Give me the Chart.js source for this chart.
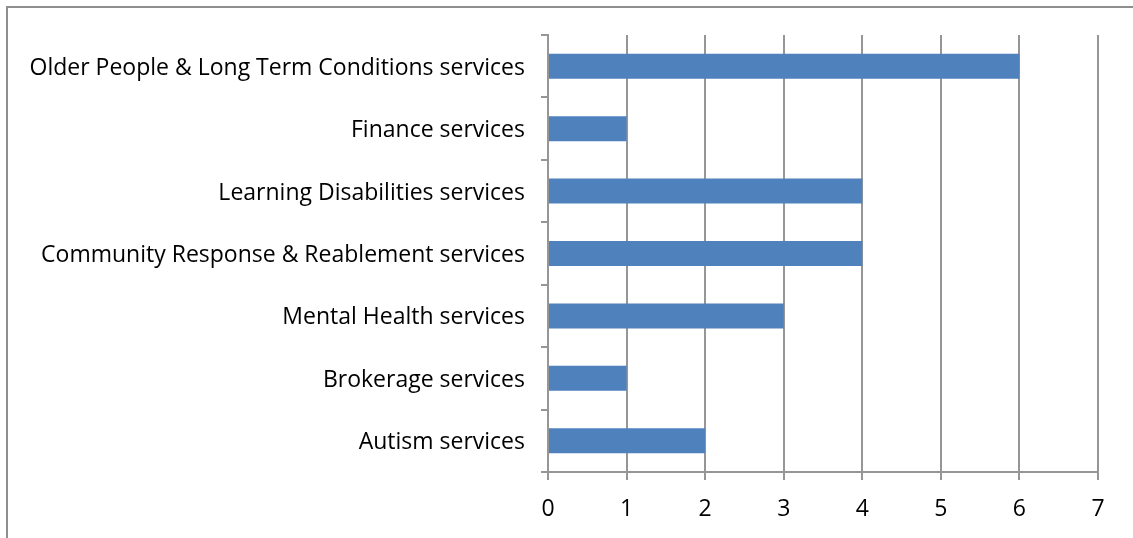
<!DOCTYPE html>
<html>
<head>
<meta charset="utf-8">
<script src="https://cdn.jsdelivr.net/npm/chart.js@4/dist/chart.umd.min.js"></script>
<style>
  html, body { margin: 0; padding: 0; background: #fff; overflow: hidden; }
  #frame { position: absolute; left: 6px; top: 6px; width: 1200px; height: 600px; border: 2px solid #8e8e8e; }
  #reportChart { position: absolute; left: 0; top: 0; }
</style>
</head>
<body>
<div id="frame"></div>
<canvas id="reportChart" width="1133" height="538"></canvas>
<script>
const services = [
  "Older People & Long Term Conditions services",
  "Finance services",
  "Learning Disabilities services",
  "Community Response & Reablement services",
  "Mental Health services",
  "Brokerage services",
  "Autism services"
];
const counts = [6, 1, 4, 4, 3, 1, 2];
const xTicks = [0, 1, 2, 3, 4, 5, 6, 7];

const gridColor = "#969696";
const labelFont = { family: "'Open Sans', sans-serif", size: 23 };

new Chart(document.getElementById("reportChart"), {
  type: "bar",
  data: {
    labels: services,
    datasets: [{
      data: counts,
      backgroundColor: "#4F81BD",
      barPercentage: 0.4,
      categoryPercentage: 1
    }]
  },
  options: {
    indexAxis: "y",
    responsive: false,
    animation: false,
    layout: { padding: { top: 35, right: 35, left: 0, bottom: 0 } },
    plugins: { legend: { display: false }, tooltip: { enabled: false } },
    scales: {
      x: {
        min: xTicks[0],
        max: xTicks[xTicks.length - 1],
        afterBuildTicks: axis => { axis.ticks = xTicks.map(v => ({ value: v })); },
        afterFit: axis => { axis.height = 66; },
        grid: { color: gridColor, lineWidth: 2, tickLength: 8 },
        border: { color: gridColor, width: 2 },
        ticks: { color: "#000", font: labelFont, padding: 16 }
      },
      y: {
        afterFit: axis => { axis.width = 548; },
        grid: { offset: true, drawOnChartArea: false, color: gridColor, lineWidth: 2, tickLength: 7 },
        border: { color: gridColor, width: 2 },
        ticks: { color: "#000", font: labelFont, padding: 16, labelOffset: 2 }
      }
    }
  }
});
</script>
</body>
</html>
